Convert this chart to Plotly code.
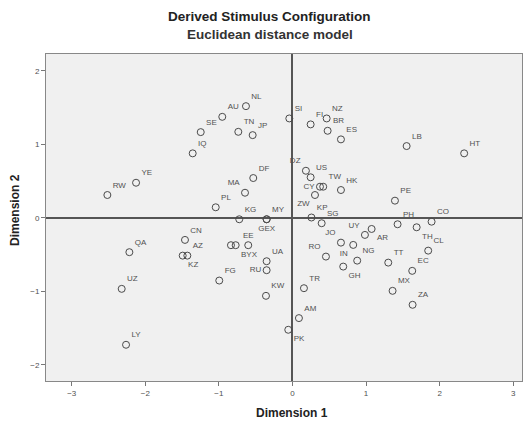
import plotly.graph_objects as go

# Country codes, coordinates (Dimension 1, Dimension 2) and label placement
codes = ["NL", "AU", "TN", "JP", "SE", "IQ", "DF", "MA", "PL", "RW", "YE", "KG", "MY", "GEX",
         "SI", "FI", "NZ", "BR", "ES", "LB", "HT", "DZ", "US", "CY", "TW", "ZW", "HK", "PE",
         "KP", "SG", "PH", "CO", "AR", "UY", "JO", "IN", "NG", "GH", "RO", "TR", "AM", "PK",
         "TT", "TH", "CL", "EC", "MX", "ZA", "CN", "AZ", "KZ", "QA", "UZ", "LY", "FG", "EE",
         "BYX", "", "UA", "RU", "KW"]
dim1 = [-0.632, -0.954, -0.736, -0.541, -1.247, -1.356, -0.533, -0.645, -1.043, -2.516, -2.126, -0.723, -0.351, -0.351,
        -0.043, 0.247, 0.465, 0.478, 0.659, 1.552, 2.334, 0.183, 0.247, 0.374, 0.418, 0.306, 0.659, 1.393,
        0.258, 0.397, 1.429, 1.891, 1.076, 0.985, 0.659, 0.826, 0.880, 0.690, 0.455, 0.156, 0.088, -0.057,
        1.302, 1.688, 1.845, 1.628, 1.361, 1.633, -1.461, -1.429, -1.492, -2.217, -2.321, -2.262, -0.995, -0.601,
        -0.772, -0.836, -0.351, -0.351, -0.360]
dim2 = [1.520, 1.375, 1.171, 1.126, 1.167, 0.878, 0.542, 0.342, 0.144, 0.311, 0.478, -0.019, -0.019, -0.019,
        1.353, 1.272, 1.353, 1.185, 1.068, 0.977, 0.878, 0.641, 0.552, 0.424, 0.424, 0.311, 0.379, 0.234,
        0.005, -0.073, -0.087, -0.052, -0.151, -0.232, -0.337, -0.368, -0.582, -0.663, -0.527, -0.957, -1.364, -1.523,
        -0.609, -0.128, -0.446, -0.721, -0.993, -1.183, -0.300, -0.514, -0.514, -0.467, -0.966, -1.727, -0.853, -0.372,
        -0.372, -0.372, -0.590, -0.712, -1.061]
label_pos = ["top right", "top right", "top right", "top right", "top right", "top right", "top right", "top left",
             "top right", "top right", "top right", "top right", "top right", "bottom center",
             "top right", "top right", "top right", "top right", "top right", "top right", "top right", "top left",
             "top right", "middle left", "top right", "bottom left", "top right", "top right",
             "top right", "top right", "top right", "top right", "bottom right", "top left", "top left", "bottom left",
             "top right", "bottom right", "top left", "top right", "top right", "bottom right",
             "top right", "bottom right", "top right", "top right", "top right", "top right", "top right", "top right",
             "bottom right", "top right", "top right", "top right", "top right", "top center",
             "bottom right", "top right", "top right", "middle left", "top right"]

x_ticks = [-3, -2, -1, 0, 1, 2, 3]
y_ticks = [-2, -1, 0, 1, 2]

FONT = "Liberation Sans, Arial, sans-serif"
GRAY = "#505050"

fig = go.Figure()
fig.add_trace(go.Scatter(
    x=dim1, y=dim2, mode="markers+text", text=codes, textposition=label_pos,
    textfont=dict(family=FONT, size=8, color=GRAY),
    marker=dict(symbol="circle-open", size=7, color="#4a4a4a", line=dict(width=1)),
    hoverinfo="text", showlegend=False, cliponaxis=False,
))

fig.update_layout(
    width=527, height=423,
    margin=dict(l=46, r=5, t=54, b=42),
    paper_bgcolor="white", plot_bgcolor="#f0f0f0",
    font=dict(family=FONT, size=8, color=GRAY),
    xaxis=dict(range=[-3.35, 3.12], tickvals=x_ticks, ticks="outside", ticklen=4, tickcolor="#777",
               showgrid=False, zeroline=True, zerolinecolor="#555", zerolinewidth=2,
               showline=True, linecolor="#888", linewidth=1, mirror=True,
               tickfont=dict(size=8, color=GRAY)),
    yaxis=dict(range=[-2.22, 2.23], tickvals=y_ticks, ticks="outside", ticklen=4, tickcolor="#777",
               showgrid=False, zeroline=True, zerolinecolor="#555", zerolinewidth=2,
               showline=True, linecolor="#888", linewidth=1, mirror=True,
               tickfont=dict(size=8, color=GRAY)),
    annotations=[
        dict(text="<b>Derived Stimulus Configuration</b>", xref="paper", yref="paper", x=0.47, y=1,
             xanchor="center", yanchor="middle", yshift=38, showarrow=False,
             font=dict(family=FONT, size=13.5, color="#222")),
        dict(text="<b>Euclidean distance model</b>", xref="paper", yref="paper", x=0.47, y=1,
             xanchor="center", yanchor="middle", yshift=20, showarrow=False,
             font=dict(family=FONT, size=13.5, color="#333")),
        dict(text="<b>Dimension 1</b>", xref="paper", yref="paper", x=0.517, y=0,
             xanchor="center", yanchor="middle", yshift=-32, showarrow=False,
             font=dict(family=FONT, size=12, color="#222")),
        dict(text="<b>Dimension 2</b>", xref="paper", yref="paper", x=0, y=0.523,
             xanchor="center", yanchor="middle", xshift=-31, textangle=-90, showarrow=False,
             font=dict(family=FONT, size=12, color="#222")),
    ],
)

fig.write_html("out.html", config={"displayModeBar": False},
               post_script="document.body.style.margin='0';")
